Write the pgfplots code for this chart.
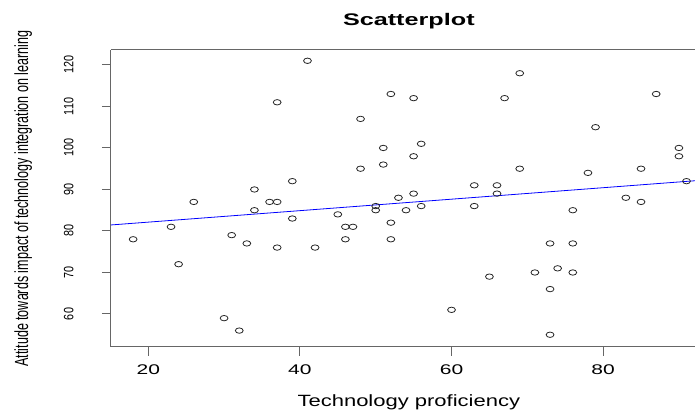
\documentclass[border=0pt]{standalone}
\usepackage{pgfplots}
\pgfplotsset{compat=1.18}
\usepackage{pgfplotstable}
\usepackage{fontspec}
\setmainfont{Liberation Sans}
% the reference is stretched sideways, so the fonts are widened (or narrowed when rotated)
\newfontfamily\xtickfont{Liberation Sans}[FakeStretch=1.5]
\newfontfamily\xlabfont{Liberation Sans}[FakeStretch=1.35]
\newfontfamily\titlefont{Liberation Sans}[FakeStretch=1.5]
\newfontfamily\ytickfont{Liberation Sans}[FakeStretch=0.8]
\newfontfamily\ylabfont{Liberation Sans}[FakeStretch=0.66]

\pgfplotstableread{
x y
18 78
23 81
24 72
26 87
30 59
31 79
32 56
33 77
34 85
34 90
36 87
37 87
37 111
37 76
39 92
39 83
41 121
42 76
45 84
46 81
47 81
46 78
48 107
48 95
50 86
50 85
51 100
51 96
52 113
52 82
52 78
53 88
54 85
55 112
55 98
55 89
56 101
56 86
60 61
63 91
63 86
65 69
66 91
66 89
67 112
69 118
69 95
71 70
73 77
73 66
73 55
74 71
76 85
76 77
76 70
78 94
79 105
83 88
85 95
85 87
87 113
90 100
90 98
91 92
}\scores

\begin{document}
\begin{tikzpicture}
\useasboundingbox (-111pt,-64pt) rectangle (584pt,347pt);
\begin{axis}[
    scale only axis,
    width=584pt,
    height=297pt,
    xmin=15.08, xmax=92.12,
    ymin=52.05, ymax=123.6,
    axis x line*=box,
    axis y line*=left,
    axis line style={draw=black!60, line width=1pt},
    xtick={20,40,60,80},
    ytick={60,70,80,90,100,110,120},
    xtick pos=bottom,
    ytick pos=left,
    tick align=outside,
    major tick length=9pt,
    tick style={draw=black!60, line width=1pt},
    /pgf/number format/assume math mode=true,
    xticklabel style={anchor=base, font=\xtickfont\fontsize{14pt}{16pt}\selectfont},
    xticklabel shift=19pt,
    yticklabel style={rotate=90, anchor=base, font=\ytickfont\fontsize{13.5pt}{15pt}\selectfont},
    yticklabel shift=28.7pt,
    every axis title shift=0pt,
    title={Scatterplot},
    title style={at={(axis description cs:0.51,1.0808)}, anchor=base,
        font=\titlefont\bfseries\fontsize{16.8pt}{19pt}\selectfont},
    xlabel={Technology proficiency},
    xlabel style={at={(axis description cs:0.51,-0.2003)}, anchor=base,
        font=\xlabfont\fontsize{16.3pt}{18pt}\selectfont},
    ylabel={Attitude towards impact of technology integration on learning},
    ylabel style={at={(axis description cs:-0.1421,0.5)}, rotate=0, anchor=base,
        font=\ylabfont\fontsize{19pt}{21pt}\selectfont},
]
\addplot[only marks, mark=o, mark size=2.7pt,
    mark options={xscale=1.45, draw=black!85, line width=0.8pt}]
    table[x=x, y=y] {\scores};
% fitted line as drawn in the reference (read at both ends)
\addplot[blue, line width=0.8pt] coordinates {(15.08,81.45) (92.12,92.1)};
\end{axis}
\end{tikzpicture}
\end{document}
